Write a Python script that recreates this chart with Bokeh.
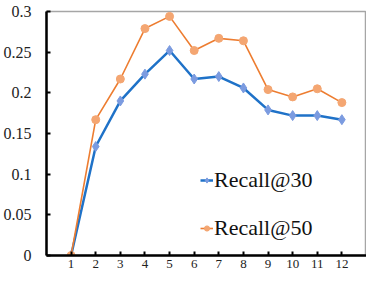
from bokeh.plotting import figure
from bokeh.models import Range1d, FixedTicker, CustomJSTickFormatter, Legend, LegendItem
from bokeh.embed import file_html
from bokeh.resources import INLINE

x_vals = [1, 2, 3, 4, 5, 6, 7, 8, 9, 10, 11, 12]
recall30 = [0.0, 0.134, 0.190, 0.223, 0.252, 0.217, 0.220, 0.206, 0.179, 0.172, 0.172, 0.167]
recall50 = [0.0, 0.167, 0.217, 0.279, 0.294, 0.252, 0.267, 0.264, 0.204, 0.195, 0.205, 0.188]
y_ticks = [0, 0.05, 0.1, 0.15, 0.2, 0.25, 0.3]

FONT = "Liberation Serif"

p = figure(width=366, height=273, output_backend="svg", toolbar_location=None,
           x_range=Range1d(0, 13), y_range=Range1d(0, 0.3),
           min_border_left=46, min_border_right=0, min_border_top=11, min_border_bottom=18)
p.grid.visible = False
p.background_fill_color = "white"
p.border_fill_color = "white"
p.outline_line_color = "#A6A6A6"
p.outline_line_width = 1.5

p.xaxis.ticker = FixedTicker(ticks=x_vals)
p.yaxis.ticker = FixedTicker(ticks=y_ticks)
p.yaxis.formatter = CustomJSTickFormatter(code="return tick.toFixed(2).replace(/0+$/,'').replace(/\\.$/,'');")
for ax in (p.xaxis, p.yaxis):
    ax.axis_line_color = "black"
    ax.axis_line_width = 2.5
    ax.major_tick_line_color = "black"
    ax.major_tick_line_width = 2
    ax.major_tick_in = 4
    ax.major_tick_out = 0
    ax.minor_tick_line_color = None
    ax.major_label_text_font = FONT
    ax.major_label_text_color = "#222222"
p.yaxis.major_label_text_font_size = "16px"
p.yaxis.major_label_standoff = 15
p.xaxis.major_label_text_font_size = "13px"
p.xaxis.major_label_standoff = 4

l30 = p.line(x_vals, recall30, line_color="#1F72C8", line_width=2.5)
m30 = p.scatter(x_vals, recall30, marker="diamond", size=10, fill_color="#7B9BE0", line_color="#7B9BE0")
l50 = p.line(x_vals, recall50, line_color="#ED7D31", line_width=1.6)
m50 = p.scatter(x_vals, recall50, marker="circle", size=8, fill_color="#F4A672", line_color="#F4A672")

legend = Legend(items=[LegendItem(label="Recall@30", renderers=[l30, m30]),
                       LegendItem(label="Recall@50", renderers=[l50, m50])],
                location=(154, 14))
legend.label_text_font = FONT
legend.label_text_font_size = "22px"
legend.label_text_color = "#111111"
legend.glyph_width = 13
legend.label_standoff = 1
legend.spacing = 22
legend.padding = 0
legend.margin = 0
legend.border_line_color = None
legend.background_fill_alpha = 0
p.add_layout(legend)

open("out.html", "w").write(file_html(p, INLINE))
